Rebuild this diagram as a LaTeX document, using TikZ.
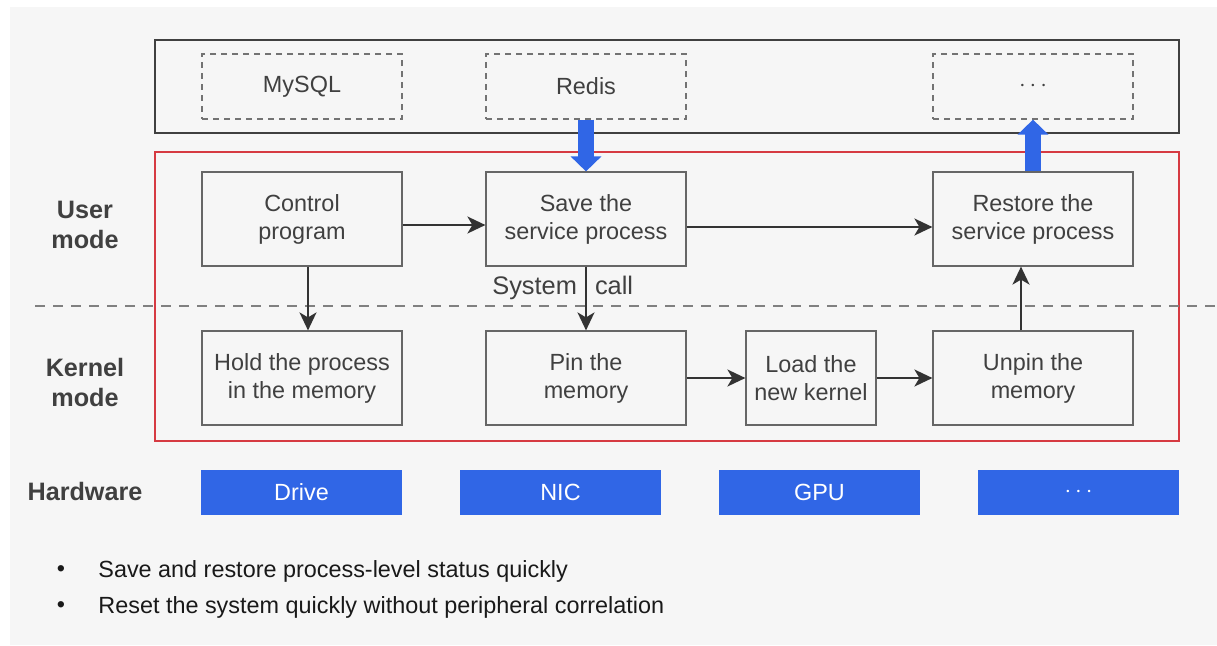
\documentclass[tikz,border=0pt]{standalone}
\usepackage{fontspec}
\setmainfont{Liberation Sans}
\usetikzlibrary{arrows.meta,positioning}
\definecolor{bggray}{HTML}{F6F6F6}
\definecolor{txtgray}{HTML}{404040}
\definecolor{hwblue}{HTML}{3066E6}
\definecolor{modered}{HTML}{D63A42}

\begin{document}
\begin{tikzpicture}[x=0.5pt,y=-0.5pt,
  font=\fontsize{11.7}{14}\selectfont,
  box/.style={draw=black!60,line width=0.6pt,text=txtgray,align=center,
    minimum width=100pt,minimum height=47pt,inner sep=0pt},
  appbox/.style={draw=black!55,dash pattern=on 3pt off 2.5pt,line width=0.6pt,
    text=txtgray,minimum width=100pt,minimum height=32.5pt},
  hwbox/.style={fill=hwblue,text=white,minimum width=100.5pt,minimum height=22.5pt},
  modelabel/.style={font=\fontsize{12.6}{15}\selectfont\bfseries,text=txtgray,align=center},
  calllabel/.style={text=txtgray,font=\fontsize{12.7}{15}\selectfont,inner sep=4pt},
  flow/.style={draw=black!80,line width=1pt,-{Stealth[length=9pt,width=8.5pt,inset=2.5pt]}},
  bigflow/.style={draw=hwblue,line width=8pt,-{Triangle[width=15pt,length=7.5pt]}}]

\fill[bggray] (10,7) rectangle (1217,645);
\useasboundingbox (0,0) rectangle (1217,645);

% application layer
\draw[black!75,line width=0.8pt] (155,40) rectangle (1179,133);
\node[appbox] (mysql) at (302,86.5) {MySQL};
\node[appbox] (redis) at (586,86.5) {Redis};
\node[appbox] (appmore) at (1033,86.5) {$\cdots$};

% user and kernel mode
\draw[modered,line width=0.6pt] (155,152) rectangle (1179,441);
\draw[black!50,line width=1pt,dash pattern=on 5pt off 4pt] (35,306) -- (1217,306);

\node[modelabel] (user) at (85,225) {User\\mode};
\node[modelabel] (kernel) at (85,382) {Kernel\\mode};
\node[modelabel] (hw) at (85,491) {Hardware};

\node[box] (ctrl) at (302,219) {Control\\program};
\node[box] (save) at (586,219) {Save the\\service process};
\node[box] (restore) at (1033,219) {Restore the\\service process};

\node[box] (hold) at (302,378) {Hold the process\\in the memory};
\node[box] (pin) at (586,378) {Pin the\\memory};
\node[box,minimum width=65pt] (load) at (811,378) {Load the\\new kernel};
\node[box] (unpin) at (1033,378) {Unpin the\\memory};

% connectors
\draw[flow] ([yshift=-3pt]ctrl.east) -- ([yshift=-3pt]save.west);
\draw[flow] ([yshift=-4pt]save.east) -- ([yshift=-4pt]restore.west);
\draw[flow] ([xshift=3pt]ctrl.south) -- ([xshift=3pt]hold.north);
\draw[flow] (save.south) --
  node[pos=0.44,anchor=base east,calllabel]{System}
  node[pos=0.44,anchor=base west,calllabel]{call} (pin.north);
\draw[flow] (pin) -- (load);
\draw[flow] (load) -- (unpin);
\draw[flow] ([xshift=-6pt]unpin.north) -- ([xshift=-6pt]restore.south);

\draw[bigflow] (redis.south) -- (save.north);
\draw[bigflow] (restore.north) -- (appmore.south);

% hardware
\node[hwbox] (drive) at (301.5,492.5) {Drive};
\node[hwbox] (nic) at (560.5,492.5) {NIC};
\node[hwbox] (gpu) at (819.5,492.5) {GPU};
\node[hwbox] (hwmore) at (1078.5,492.5) {$\cdots$};

% notes
\node[anchor=west,inner sep=0pt,text=black!90] (note1) at (98,571) {Save and restore process-level status quickly};
\node[anchor=west,inner sep=0pt,text=black!90] (note2) at (98,607) {Reset the system quickly without peripheral correlation};
\node[text=black!90] (dot1) at (61,571) {\textbullet};
\node[text=black!90] (dot2) at (61,607) {\textbullet};
\end{tikzpicture}
\end{document}
